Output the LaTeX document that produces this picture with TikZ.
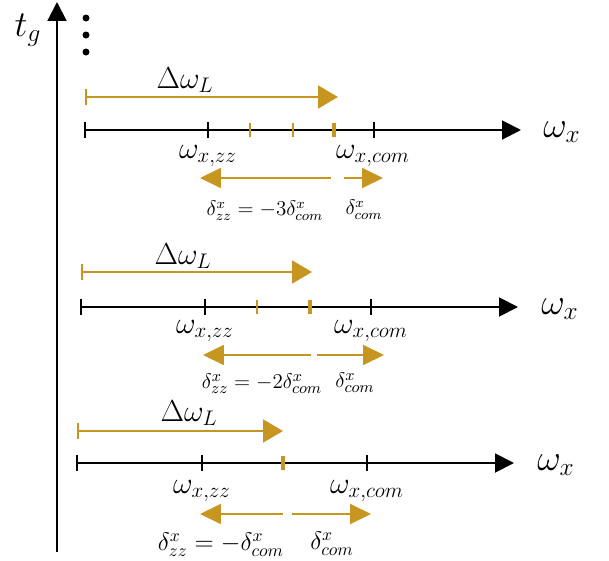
\documentclass[tikz,border=0pt]{standalone}
\usepackage{tikz}
\usetikzlibrary{arrows.meta}
\definecolor{gold}{RGB}{198,150,32}
\tikzset{
	axisline/.style={line width=1.1pt, -{Triangle[length=0.38cm,width=0.38cm]}},
	blacktick/.style={line width=0.9pt},
	goldtick/.style={line width=0.8pt, color=gold},
	goldmark/.style={line width=2.2pt, color=gold},
	linewidth/.style={line width=1.1pt, color=gold, {Bar[width=0.32cm]}-{Triangle[length=0.4cm,width=0.46cm]}},
	shiftarrow/.style={line width=1.1pt, color=gold, -{Triangle[length=0.42cm,width=0.4cm]}}
}

\begin{document}
\begin{tikzpicture}[x=0.02cm, y=-0.02cm]
			%%%%% START %%%%%
			\useasboundingbox (0, 0) rectangle (609, 561);
			
			% time axis
			\coordinate (tbot) at (57, 552);
			\coordinate (ttop) at (57, 2);
			\draw[axisline] (tbot) -- (ttop);
			\node (tg) at (28, 30) {\huge $t_g$};
			\fill (86, 18) circle (3.5);
			\fill (86, 35) circle (3.5);
			\fill (86, 52) circle (3.5);
			
			% first row
			\coordinate (a1) at (85, 130);
			\coordinate (b1) at (521, 130);
			\draw[axisline] (a1) -- (b1);
			\node (wx1) at (562, 132) {\huge $\omega_x$};
			\draw[blacktick] (85, 122) -- (85, 138);
			\draw[blacktick] (208, 122) -- (208, 138);
			\draw[blacktick] (374, 122) -- (374, 138);
			\draw[goldtick] (250, 123) -- (250, 137);
			\draw[goldtick] (293, 123) -- (293, 137);
			\draw[goldmark] (334, 123) -- (334, 137);
			\node (zz1) at (208, 156) {\LARGE $\omega_{x,zz}$};
			\node (com1) at (373, 156) {\LARGE $\omega_{x,com}$};
			\coordinate (l1s) at (85, 97);
			\coordinate (l1e) at (338, 97);
			\draw[linewidth] (l1s) -- (l1e);
			\node (dl1) at (185, 80) {\LARGE $\Delta\omega_L$};
			\draw[shiftarrow] (331, 178) -- (200, 178);
			\draw[shiftarrow] (344, 178) -- (383, 178);
			\node (dzz1) at (265, 211) {\large $\delta^x_{zz} = -3\delta^x_{com}$};
			\node (dc1) at (364, 210) {\large $\delta^x_{com}$};
			
			% second row
			\coordinate (a2) at (81, 307);
			\coordinate (b2) at (518, 307);
			\draw[axisline] (a2) -- (b2);
			\node (wx2) at (560, 309) {\huge $\omega_x$};
			\draw[blacktick] (81, 299) -- (81, 315);
			\draw[blacktick] (205, 299) -- (205, 315);
			\draw[blacktick] (371, 299) -- (371, 315);
			\draw[goldtick] (257, 300) -- (257, 314);
			\draw[goldmark] (310, 300) -- (310, 314);
			\node (zz2) at (205, 331) {\LARGE $\omega_{x,zz}$};
			\node (com2) at (371, 331) {\LARGE $\omega_{x,com}$};
			\coordinate (l2s) at (81, 272);
			\coordinate (l2e) at (312, 272);
			\draw[linewidth] (l2s) -- (l2e);
			\node (dl2) at (183, 256) {\LARGE $\Delta\omega_L$};
			\draw[shiftarrow] (311, 355) -- (203, 355);
			\draw[shiftarrow] (317, 355) -- (384, 355);
			\node (dzz2) at (262, 384) {\fontsize{13.2}{16}\selectfont $\delta^x_{zz} = -2\delta^x_{com}$};
			\node (dc2) at (355, 383) {\fontsize{13.2}{16}\selectfont $\delta^x_{com}$};
			
			% third row
			\coordinate (a3) at (77, 463);
			\coordinate (b3) at (514, 463);
			\draw[axisline] (a3) -- (b3);
			\node (wx3) at (556, 465) {\huge $\omega_x$};
			\draw[blacktick] (77, 455) -- (77, 471);
			\draw[blacktick] (202, 455) -- (202, 471);
			\draw[blacktick] (367, 455) -- (367, 471);
			\draw[goldmark] (283, 456) -- (283, 470);
			\node (zz3) at (202, 491) {\LARGE $\omega_{x,zz}$};
			\node (com3) at (367, 491) {\LARGE $\omega_{x,com}$};
			\coordinate (l3s) at (77, 431);
			\coordinate (l3e) at (283, 431);
			\draw[linewidth] (l3s) -- (l3e);
			\node (dl3) at (189, 413) {\LARGE $\Delta\omega_L$};
			\draw[shiftarrow] (283, 514) -- (200, 514);
			\draw[shiftarrow] (292, 514) -- (371, 514);
			\node (dzz3) at (221, 545) {\Large $\delta^x_{zz} = -\delta^x_{com}$};
			\node (dc3) at (332, 544) {\Large $\delta^x_{com}$};
			
			%%%%% END %%%%%
\end{tikzpicture}
\end{document}
